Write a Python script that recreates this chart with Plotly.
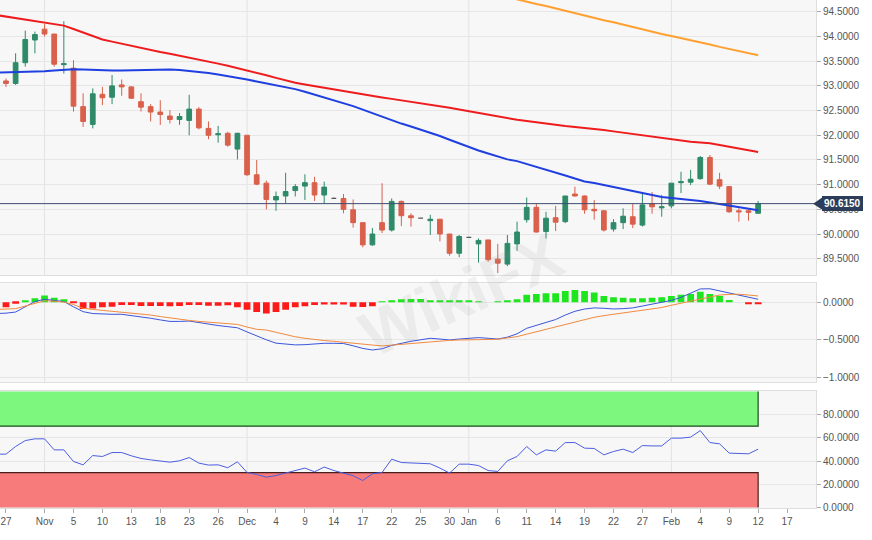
"""
US Dollar Index daily candles with SMAs, MACD and RSI panels.
"""

import pandas as pd
import plotly.graph_objects as go
from plotly.subplots import make_subplots

# trading days 26 Oct 2020 .. 12 Feb 2021, plus three empty slots up to 17 Feb
dates = pd.bdate_range("2020-10-26", "2021-02-17")

opens = [92.95, 93.10, 93.05, 93.47, 93.93, 94.15, 94.05, 93.43, 93.36, 92.58,
         92.22, 92.83, 92.77, 93.02, 92.98, 92.68, 92.58, 92.47, 92.39, 92.32,
         92.30, 92.53, 92.14, 92.01, 92.04, 91.72, 92.00, 91.20, 91.03, 90.69,
         90.77, 90.88, 90.97, 91.04, 90.79, 90.72, 90.72, 90.49, 90.23, 89.78,
         90.23, 90.08, 90.66, 90.37, 90.32, 90.27, 90.30, 90.00, 89.61, 89.93,
         89.80, 89.88, 89.49, 89.39, 89.80, 90.29, 90.54, 90.05, 90.33, 90.25,
         90.81, 90.77, 90.50, 90.47, 90.10, 90.23, 90.35, 90.18, 90.61, 90.53,
         90.57, 91.04, 91.05, 91.12, 91.55, 91.10, 90.96, 90.47, 90.47, 90.42]
highs = [93.15, 93.15, 93.66, 94.12, 94.10, 94.25, 94.05, 94.31, 93.52, 92.85,
         92.95, 92.98, 93.22, 93.13, 92.99, 92.85, 92.63, 92.71, 92.51, 92.45,
         92.82, 92.57, 92.28, 92.19, 92.07, 92.05, 92.00, 91.50, 91.08, 90.86,
         91.24, 91.01, 91.21, 91.16, 91.06, 90.74, 90.81, 90.70, 90.23, 90.12,
         91.03, 90.72, 90.68, 90.42, 90.33, 90.39, 90.30, 90.00, 89.98, 89.94,
         89.91, 89.88, 89.80, 89.98, 90.25, 90.74, 90.62, 90.45, 90.57, 90.77,
         90.96, 90.78, 90.69, 90.48, 90.30, 90.52, 90.62, 90.83, 90.85, 90.79,
         91.03, 91.26, 91.30, 91.58, 91.60, 91.24, 90.96, 90.52, 90.52, 90.67]
lows = [92.90, 92.98, 93.02, 93.39, 93.66, 94.00, 93.39, 93.25, 92.48, 92.17,
        92.14, 92.61, 92.63, 92.80, 92.74, 92.48, 92.28, 92.21, 92.24, 92.21,
        92.00, 92.12, 91.92, 91.85, 91.77, 91.51, 91.18, 90.99, 90.50, 90.47,
        90.62, 90.76, 90.69, 90.67, 90.62, 90.71, 90.42, 90.13, 89.73, 89.76,
        90.02, 90.05, 90.16, 90.15, 90.31, 89.98, 89.85, 89.56, 89.53, 89.92,
        89.42, 89.44, 89.21, 89.35, 89.66, 90.23, 90.03, 89.91, 90.06, 90.22,
        90.76, 90.41, 90.29, 90.05, 90.05, 90.10, 90.12, 90.15, 90.41, 90.35,
        90.52, 90.83, 90.99, 91.10, 90.99, 90.91, 90.43, 90.25, 90.27, 90.41]
closes = [93.08, 93.05, 93.47, 93.94, 94.04, 94.05, 93.44, 93.45, 92.59, 92.28,
          92.84, 92.76, 93.00, 92.98, 92.75, 92.57, 92.47, 92.42, 92.32, 92.38,
          92.53, 92.15, 92.00, 92.03, 91.80, 92.04, 91.20, 91.01, 90.70, 90.76,
          90.86, 90.96, 91.04, 90.79, 90.95, 90.72, 90.50, 90.23, 89.78, 90.00,
          90.08, 90.66, 90.37, 90.33, 90.32, 90.30, 90.00, 89.61, 89.95, 89.93,
          89.87, 89.48, 89.41, 89.81, 90.04, 90.54, 90.04, 90.32, 90.24, 90.77,
          90.77, 90.49, 90.47, 90.08, 90.23, 90.36, 90.20, 90.59, 90.55, 90.55,
          91.03, 91.06, 91.11, 91.55, 91.01, 90.97, 90.45, 90.45, 90.44, 90.615]

# flat sessions drawn as grey dashes
doji_days = ["2020-12-14", "2020-12-25", "2021-01-01"]

sma_red = [94.435, 94.405, 94.377, 94.348, 94.318, 94.288, 94.257, 94.221, 94.152, 94.079,
           93.998, 93.939, 93.897, 93.852, 93.810, 93.767, 93.725, 93.686, 93.650, 93.613,
           93.575, 93.538, 93.496, 93.451, 93.407, 93.362, 93.316, 93.265, 93.215, 93.162,
           93.109, 93.065, 93.028, 92.994, 92.960, 92.925, 92.893, 92.860, 92.830, 92.798,
           92.767, 92.737, 92.709, 92.678, 92.650, 92.621, 92.593, 92.557, 92.520, 92.484,
           92.447, 92.411, 92.374, 92.342, 92.314, 92.287, 92.259, 92.233, 92.206, 92.188,
           92.170, 92.152, 92.132, 92.105, 92.079, 92.053, 92.024, 91.996, 91.968, 91.939,
           91.915, 91.893, 91.870, 91.854, 91.838, 91.804, 91.771, 91.737, 91.700, 91.662]
sma_blue = [93.271, 93.273, 93.275, 93.277, 93.281, 93.296, 93.310, 93.330, 93.336, 93.332,
            93.322, 93.314, 93.310, 93.310, 93.316, 93.322, 93.330, 93.334, 93.330, 93.322,
            93.306, 93.285, 93.261, 93.231, 93.200, 93.164, 93.128, 93.089, 93.051, 93.010,
            92.972, 92.935, 92.881, 92.824, 92.769, 92.715, 92.658, 92.591, 92.520, 92.447,
            92.372, 92.300, 92.237, 92.178, 92.119, 92.059, 91.986, 91.909, 91.832, 91.755,
            91.692, 91.630, 91.569, 91.512, 91.476, 91.419, 91.368, 91.312, 91.257, 91.186,
            91.123, 91.065, 91.034, 90.994, 90.949, 90.903, 90.866, 90.822, 90.781, 90.751,
            90.731, 90.715, 90.698, 90.670, 90.638, 90.605, 90.573, 90.538, 90.500, 90.482]
# long average only enters the visible range in January
sma_orange = [None] * 50 + [
    94.94, 94.90, 94.85, 94.80, 94.75, 94.71, 94.66, 94.62, 94.57, 94.52,
    94.47, 94.43, 94.38, 94.33, 94.29, 94.24, 94.19, 94.14, 94.09, 94.05,
    94.01, 93.97, 93.93, 93.88, 93.84, 93.79, 93.75, 93.71, 93.66, 93.62]

macd = [-0.15, -0.145, -0.13, -0.06, 0.01, 0.04, 0.03, 0.01, -0.06, -0.125,
        -0.15, -0.16, -0.16, -0.16, -0.175, -0.195, -0.213, -0.235, -0.255, -0.255,
        -0.25, -0.27, -0.295, -0.31, -0.325, -0.34, -0.395, -0.45, -0.50, -0.545,
        -0.56, -0.568, -0.565, -0.552, -0.547, -0.547, -0.55, -0.58, -0.615, -0.636,
        -0.62, -0.575, -0.545, -0.52, -0.50, -0.48, -0.49, -0.502, -0.49, -0.48,
        -0.471, -0.48, -0.49, -0.465, -0.42, -0.347, -0.305, -0.27, -0.23, -0.17,
        -0.12, -0.09, -0.075, -0.08, -0.089, -0.085, -0.075, -0.05, -0.025, -0.006,
        0.025, 0.065, 0.12, 0.178, 0.18, 0.15, 0.12, 0.09, 0.062, 0.04]
signal = [-0.095, -0.092, -0.085, -0.05, -0.01, 0.02, 0.015, 0.003, -0.03, -0.08,
          -0.095, -0.107, -0.12, -0.13, -0.145, -0.157, -0.17, -0.19, -0.21, -0.23,
          -0.242, -0.255, -0.265, -0.272, -0.282, -0.295, -0.33, -0.36, -0.37, -0.4,
          -0.435, -0.46, -0.48, -0.5, -0.51, -0.52, -0.53, -0.54, -0.555, -0.57,
          -0.582, -0.57, -0.56, -0.552, -0.54, -0.524, -0.515, -0.508, -0.503, -0.5,
          -0.498, -0.495, -0.493, -0.475, -0.458, -0.425, -0.392, -0.36, -0.327, -0.296,
          -0.263, -0.23, -0.2, -0.178, -0.16, -0.145, -0.128, -0.112, -0.09, -0.07,
          -0.04, -0.012, 0.015, 0.045, 0.07, 0.097, 0.105, 0.107, 0.097, 0.084]
hist = [-0.08, -0.067, -0.02, 0.02, 0.053, 0.089, 0.062, 0.04, -0.01, -0.089,
        -0.084, -0.067, -0.058, -0.036, -0.036, -0.049, -0.049, -0.049, -0.053, -0.049,
        -0.036, -0.036, -0.045, -0.045, -0.04, -0.067, -0.1, -0.13, -0.15, -0.13,
        -0.1, -0.067, -0.053, -0.036, -0.03, -0.03, -0.03, -0.058, -0.062, -0.053,
        0.004, 0.02, 0.04, 0.045, 0.045, 0.02, 0.02, 0.02, 0.02, 0.02,
        0.005, 0.0, 0.01, 0.02, 0.04, 0.1, 0.11, 0.12, 0.12, 0.15,
        0.165, 0.15, 0.13, 0.084, 0.067, 0.062, 0.053, 0.053, 0.062, 0.067,
        0.084, 0.1, 0.11, 0.14, 0.11, 0.084, 0.03, 0.0, -0.027, -0.027]

rsi = [45.9, 45.9, 52.5, 57.6, 59.1, 59.1, 49.6, 49.6, 39.6, 36.7,
       44.7, 43.9, 47.3, 47.3, 44.5, 42.2, 41.0, 40.2, 39.0, 40.2,
       43.0, 38.2, 36.5, 36.7, 34.2, 39.3, 30.1, 28.4, 26.1, 27.5,
       29.6, 31.8, 33.9, 30.7, 34.8, 31.8, 29.6, 27.3, 23.2, 29.0,
       30.1, 41.6, 38.7, 38.4, 38.4, 37.6, 33.9, 29.6, 37.3, 37.3,
       36.1, 31.8, 31.0, 40.2, 43.9, 52.5, 45.3, 49.6, 48.5, 55.9,
       55.9, 51.1, 50.8, 45.3, 48.2, 50.2, 47.3, 53.3, 53.0, 53.0,
       59.7, 59.7, 60.6, 66.2, 55.9, 54.8, 46.8, 46.8, 46.2, 50.2]

tick_days = ["2020-10-27", "2020-11-02", "2020-11-05", "2020-11-10", "2020-11-13",
             "2020-11-18", "2020-11-23", "2020-11-26", "2020-12-01", "2020-12-04",
             "2020-12-09", "2020-12-14", "2020-12-17", "2020-12-22", "2020-12-25",
             "2020-12-30", "2021-01-01", "2021-01-06", "2021-01-11", "2021-01-14",
             "2021-01-19", "2021-01-22", "2021-01-27", "2021-02-01", "2021-02-04",
             "2021-02-09", "2021-02-12", "2021-02-17"]
tick_text = ["27", "Nov", "5", "10", "13", "18", "23", "26", "Dec", "4", "9", "14",
             "17", "22", "25", "30", "Jan", "6", "11", "14", "19", "22", "27", "Feb",
             "4", "9", "12", "17"]
month_days = ["2020-11-02", "2020-12-01", "2021-01-01", "2021-02-01"]

last_price = 90.615

GREEN = "#2e8a68"
RED = "#d9604b"
FONT = "Liberation Sans, Arial, sans-serif"

day_str = [d.strftime("%Y-%m-%d") for d in dates]
pos = {d: i for i, d in enumerate(day_str)}
xs = list(range(len(opens)))
last_x = xs[-1]
x_lo, x_hi = 0.38, 85.0

doji_idx = [pos[d] for d in doji_days]
main_idx = [i for i in xs if i not in doji_idx]

fig = make_subplots(rows=3, cols=1, shared_xaxes=True, vertical_spacing=0.02)

fig.add_trace(go.Candlestick(
    x=main_idx,
    open=[opens[i] for i in main_idx], high=[highs[i] for i in main_idx],
    low=[lows[i] for i in main_idx], close=[closes[i] for i in main_idx],
    increasing=dict(line=dict(color=GREEN, width=1), fillcolor=GREEN),
    decreasing=dict(line=dict(color=RED, width=1), fillcolor=RED),
    whiskerwidth=0, showlegend=False,
), row=1, col=1)
fig.add_trace(go.Candlestick(
    x=doji_idx,
    open=[opens[i] for i in doji_idx], high=[highs[i] for i in doji_idx],
    low=[lows[i] for i in doji_idx], close=[closes[i] for i in doji_idx],
    increasing=dict(line=dict(color="#555555", width=1.2), fillcolor="#555555"),
    decreasing=dict(line=dict(color="#555555", width=1.2), fillcolor="#555555"),
    whiskerwidth=0, showlegend=False,
), row=1, col=1)

for vals, col in [(sma_red, "#ee1c1c"), (sma_blue, "#1f3fe0"), (sma_orange, "#ffa030")]:
    fig.add_trace(go.Scatter(x=xs, y=vals, mode="lines",
                             line=dict(color=col, width=2), showlegend=False),
                  row=1, col=1)

# MACD panel
fig.add_trace(go.Bar(
    x=xs, y=hist, width=0.7,
    marker=dict(color=["#1ee61e" if v > 0 else "#ff1a1a" for v in hist], line=dict(width=0)),
    showlegend=False,
), row=2, col=1)
fig.add_trace(go.Scatter(x=xs, y=macd, mode="lines",
                         line=dict(color="#3a55dc", width=1), showlegend=False), row=2, col=1)
fig.add_trace(go.Scatter(x=xs, y=signal, mode="lines",
                         line=dict(color="#f28a3e", width=1), showlegend=False), row=2, col=1)

# RSI panel
fig.add_trace(go.Scatter(x=xs, y=rsi, mode="lines",
                         line=dict(color="#4a5ee0", width=1), showlegend=False), row=3, col=1)

shapes = []
for d in month_days:
    for xr, yr in [("x", "y domain"), ("x2", "y2 domain"), ("x3", "y3 domain")]:
        shapes.append(dict(type="line", xref=xr, yref=yr, x0=pos[d], x1=pos[d], y0=0, y1=1,
                           line=dict(color="#e2e2e2", width=1), layer="below"))

# overbought / oversold zones
shapes += [
    dict(type="rect", xref="x3", yref="y3", x0=x_lo, x1=last_x, y0=70, y1=100,
         fillcolor="#7ef77e", line=dict(width=0), layer="between"),
    dict(type="rect", xref="x3", yref="y3", x0=x_lo, x1=last_x, y0=0, y1=30,
         fillcolor="#f87b7b", line=dict(width=0), layer="between"),
    dict(type="path", xref="x3", yref="y3",
         path=f"M {x_lo},70 L {last_x},70 L {last_x},100",
         line=dict(color="#1d4a1d", width=1.2), layer="between"),
    dict(type="path", xref="x3", yref="y3",
         path=f"M {x_lo},30 L {last_x},30 L {last_x},0",
         line=dict(color="#4a1d1d", width=1.2), layer="between"),
]

# last price line and marker
shapes.append(dict(type="line", xref="paper", yref="y", x0=0, x1=1,
                   y0=last_price, y1=last_price,
                   line=dict(color="#3d4c70", width=1), layer="above"))
shapes.append(dict(type="path", xref="paper", yref="y",
                   path=f"M 0.9965,{last_price} L 1.0085,{last_price + 0.135} "
                        f"L 1.0085,{last_price - 0.135} Z",
                   fillcolor="#2b3d5b", line=dict(width=0), layer="above"))

fig.update_layout(
    width=872, height=540,
    margin=dict(l=0, r=56, t=0, b=32, autoexpand=False),
    paper_bgcolor="#ffffff",
    plot_bgcolor="#f7f7f7",
    showlegend=False,
    font=dict(family=FONT, size=10, color="#555555"),
    shapes=shapes,
    annotations=[
        dict(xref="paper", yref="y", x=1.0074, y=last_price, xanchor="left",
             text=f"<b>{last_price:.4f}</b>", showarrow=False,
             font=dict(family=FONT, size=10, color="#ffffff"),
             bgcolor="#2b3d5b", borderpad=2, borderwidth=0),
        dict(xref="paper", yref="paper", x=0.565, y=0.42, text="<b>WikiFX</b>",
             showarrow=False, textangle=-24,
             font=dict(family=FONT, size=64, color="rgba(150,150,150,0.12)")),
    ],
)

axis_common = dict(side="right", tickformat=".4f", ticks="outside", ticklen=4,
                   tickcolor="#aaaaaa", gridcolor="#e6e6e6", zeroline=False,
                   showline=True, linecolor="#dedede", mirror=True,
                   tickfont=dict(size=10, color="#555555"))
fig.update_layout(
    yaxis=dict(domain=[0.4587, 1.0], range=[89.17, 94.74], dtick=0.5, tick0=0,
               **axis_common),
    yaxis2=dict(domain=[0.2486, 0.4423], range=[-1.059, 0.253],
                tickvals=[0, -0.5, -1.0], **axis_common),
    yaxis3=dict(domain=[0.0, 0.2309], range=[-0.5, 100.6],
                tickvals=[0, 20, 40, 60, 80], **axis_common),
)
fig.update_xaxes(range=[x_lo, x_hi], showgrid=False, zeroline=False,
                 showline=True, linecolor="#dedede", mirror=True,
                 rangeslider_visible=False, showticklabels=False, ticks="")
fig.update_xaxes(row=3, col=1, showticklabels=True, ticks="outside", ticklen=4,
                 tickcolor="#aaaaaa",
                 tickvals=[pos[d] for d in tick_days], ticktext=tick_text,
                 tickfont=dict(size=10, color="#555555"))

# the page's default body margin would push the chart 8px off
fig.write_html("out.html", config={"displayModeBar": False},
               post_script="document.body.style.margin='0';document.body.style.padding='0';")
